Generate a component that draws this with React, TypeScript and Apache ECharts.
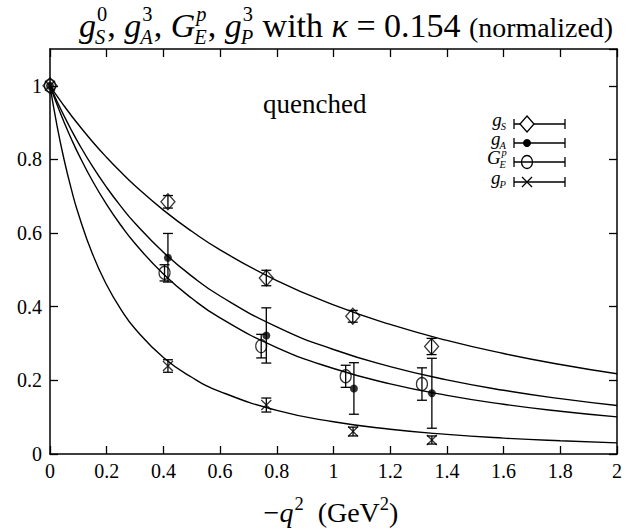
import React, { useEffect, useRef } from "react";
import * as echarts from "echarts";

const SERIF = "'Liberation Serif', 'DejaVu Serif', serif";

const curveX = [0, 0.025, 0.05, 0.075, 0.1, 0.15, 0.2, 0.25, 0.3, 0.4, 0.5, 0.6, 0.8, 1.0, 1.2, 1.4, 1.6, 1.8, 2.0];
const curveGS = [1, 0.972, 0.9452, 0.9195, 0.8948, 0.8483, 0.8054, 0.7656, 0.7287, 0.6625, 0.6049, 0.5545, 0.471, 0.405, 0.3519, 0.3086, 0.2729, 0.243, 0.2178];
const curveGA = [1, 0.9575, 0.9177, 0.8804, 0.8452, 0.781, 0.7238, 0.6726, 0.6267, 0.548, 0.4832, 0.4292, 0.3453, 0.2838, 0.2373, 0.2014, 0.1731, 0.1504, 0.1318];
const curveGE = [1, 0.9483, 0.9006, 0.8563, 0.8152, 0.7415, 0.6773, 0.6212, 0.5717, 0.4889, 0.423, 0.3695, 0.289, 0.2322, 0.1906, 0.1593, 0.1351, 0.116, 0.1007];
const curveGP = [1, 0.8908, 0.7985, 0.7199, 0.6524, 0.5429, 0.4589, 0.393, 0.3403, 0.2623, 0.2084, 0.1696, 0.1185, 0.0875, 0.0672, 0.0533, 0.0432, 0.0358, 0.0301];

// data points: [x, y, error]
const ptsGS = [[0, 1, 0], [0.416, 0.685, 0.017], [0.763, 0.478, 0.021], [1.068, 0.374, 0.016], [1.346, 0.292, 0.022]];
const ptsGA = [[0, 1, 0], [0.416, 0.533, 0.066], [0.763, 0.322, 0.075], [1.072, 0.178, 0.07], [1.347, 0.165, 0.095]];
const ptsGE = [[0, 1, 0], [0.404, 0.492, 0.022], [0.745, 0.293, 0.032], [1.043, 0.211, 0.03], [1.312, 0.19, 0.044]];
const ptsGP = [[0, 1, 0], [0.416, 0.239, 0.017], [0.763, 0.133, 0.019], [1.069, 0.061, 0.012], [1.347, 0.038, 0.011]];

type Tok = { t: string; it?: boolean; sup?: string; sub?: string; supIt?: boolean; subIt?: boolean; k?: number };

function buildMath(tokens: Tok[], base: number, anchorX: number, baseline: number, align: "center" | "right" | "left", scriptK = 0.66, supRaise = 0.42) {
  const ctx = document.createElement("canvas").getContext("2d") as CanvasRenderingContext2D;
  const fontStr = (size: number, it?: boolean) => `${it ? "italic " : ""}${size}px ${SERIF}`;
  const meas = (t: string, size: number, it?: boolean) => {
    ctx.font = fontStr(size, it);
    return ctx.measureText(t).width;
  };
  const els: any[] = [];
  const mk = (t: string, x: number, y: number, size: number, it?: boolean) => ({
    type: "text",
    x,
    y,
    silent: true,
    style: { text: t, font: fontStr(size, it), fill: "#000", textAlign: "left", textVerticalAlign: "middle" },
  });
  let x = 0;
  for (const tk of tokens) {
    const size = base * (tk.k ?? 1);
    if (tk.t) {
      els.push(mk(tk.t, x, baseline - 0.3 * size, size, tk.it));
      x += meas(tk.t, size, tk.it);
    }
    const ss = size * scriptK;
    let w = 0;
    if (tk.sup) {
      els.push(mk(tk.sup, x + (tk.it ? 1 : 0), baseline - supRaise * size - 0.3 * ss, ss, tk.supIt));
      w = Math.max(w, meas(tk.sup, ss, tk.supIt) + (tk.it ? 1 : 0));
    }
    if (tk.sub) {
      els.push(mk(tk.sub, x - (tk.it ? 1 : 0), baseline + 0.22 * size - 0.3 * ss, ss, tk.subIt));
      w = Math.max(w, meas(tk.sub, ss, tk.subIt));
    }
    x += w;
  }
  const off = align === "center" ? anchorX - x / 2 : align === "right" ? anchorX - x : anchorX;
  els.forEach((e) => (e.x += off));
  return els;
}

const errRender = (params: any, api: any) => {
  const x = api.value(0);
  const y = api.value(1);
  const e = api.value(2);
  if (!e) return { type: "group", children: [] };
  const top = api.coord([x, y + e]);
  const bot = api.coord([x, y - e]);
  const hw = 5;
  const st = { stroke: "#000", lineWidth: 1.3 };
  return {
    type: "group",
    children: [
      { type: "line", shape: { x1: top[0], y1: top[1], x2: bot[0], y2: bot[1] }, style: st },
      { type: "line", shape: { x1: top[0] - hw, y1: top[1], x2: top[0] + hw, y2: top[1] }, style: st },
      { type: "line", shape: { x1: bot[0] - hw, y1: bot[1], x2: bot[0] + hw, y2: bot[1] }, style: st },
    ],
  };
};

const DIAMOND = { symbol: "diamond", symbolSize: [14, 16], itemStyle: { color: "rgba(0,0,0,0)", borderColor: "#000", borderWidth: 1.3 } };
const FILLED = { symbol: "circle", symbolSize: 8, itemStyle: { color: "#000", borderColor: "#000", borderWidth: 0 } };
const OPEN = { symbol: "circle", symbolSize: [11, 13], itemStyle: { color: "rgba(0,0,0,0)", borderColor: "#000", borderWidth: 1.3 } };
const CROSS = { symbol: "path://M0,0L10,10M0,10L10,0", symbolSize: [10, 10], itemStyle: { color: "rgba(0,0,0,0)", borderColor: "#000", borderWidth: 1.3 } };

export default function App() {
  const ref = useRef<HTMLDivElement>(null);
  useEffect(() => {
    if (!ref.current) return;
    const chart = echarts.init(ref.current, undefined, { renderer: "svg" });

    const lineSeries = (d: number[]) => ({
      type: "line",
      data: curveX.map((x, i) => [x, d[i]]),
      showSymbol: false,
      smooth: 0.5,
      lineStyle: { color: "#000", width: 1.4 },
      silent: true,
      z: 2,
    });
    const errSeries = (p: number[][]) => ({
      type: "custom",
      renderItem: errRender,
      data: p,
      encode: { x: 0, y: 1 },
      silent: true,
      z: 3,
    });
    const scat = (p: number[][], sty: any) => ({
      type: "scatter",
      data: p.map((q) => [q[0], q[1]]),
      ...sty,
      silent: true,
      z: 4,
    });

    // legend graphic
    const rows = [
      { y: 124, tok: [{ t: "g", it: true, sub: "S", subIt: true }] as Tok[], sym: "diamond" },
      { y: 143, tok: [{ t: "g", it: true, sub: "A", subIt: true }] as Tok[], sym: "filled" },
      { y: 162, tok: [{ t: "G", it: true, sup: "p", supIt: true, sub: "E", subIt: true }] as Tok[], sym: "open" },
      { y: 182, tok: [{ t: "g", it: true, sub: "P", subIt: true }] as Tok[], sym: "cross" },
    ];
    const legendEls: any[] = [];
    const st = { stroke: "#000", lineWidth: 1.3 };
    rows.forEach((r) => {
      legendEls.push(...buildMath(r.tok, 19, 507, r.y + 1, "right", 0.55, 0.38));
      legendEls.push({ type: "line", shape: { x1: 514, y1: r.y, x2: 565, y2: r.y }, style: st, silent: true });
      legendEls.push({ type: "line", shape: { x1: 514, y1: r.y - 5, x2: 514, y2: r.y + 5 }, style: st, silent: true });
      legendEls.push({ type: "line", shape: { x1: 565, y1: r.y - 5, x2: 565, y2: r.y + 5 }, style: st, silent: true });
      const cx = 527;
      if (r.sym === "diamond") {
        legendEls.push({ type: "polygon", shape: { points: [[cx, r.y - 8], [cx + 7, r.y], [cx, r.y + 8], [cx - 7, r.y]] }, style: { fill: "#fff", stroke: "#000", lineWidth: 1.3 }, silent: true });
      } else if (r.sym === "filled") {
        legendEls.push({ type: "circle", shape: { cx, cy: r.y, r: 4 }, style: { fill: "#000" }, silent: true });
      } else if (r.sym === "open") {
        legendEls.push({ type: "ellipse", shape: { cx, cy: r.y, rx: 5.5, ry: 6.5 }, style: { fill: "rgba(0,0,0,0)", stroke: "#000", lineWidth: 1.3 }, silent: true });
      } else {
        legendEls.push({ type: "line", shape: { x1: cx - 5, y1: r.y - 5, x2: cx + 5, y2: r.y + 5 }, style: st, silent: true });
        legendEls.push({ type: "line", shape: { x1: cx - 5, y1: r.y + 5, x2: cx + 5, y2: r.y - 5 }, style: st, silent: true });
      }
    });

    const titleEls = buildMath(
      [
        { t: "g", it: true, sup: "0", sub: "S", subIt: true },
        { t: ", " },
        { t: "g", it: true, sup: "3", sub: "A", subIt: true },
        { t: ", " },
        { t: "G", it: true, sup: "p", supIt: true, sub: "E", subIt: true },
        { t: ", " },
        { t: "g", it: true, sup: "3", sub: "P", subIt: true },
        { t: " with " },
        { t: "κ", it: true },
        { t: " = 0.154 " },
        { t: "(normalized)", k: 0.82 },
      ],
      34,
      346,
      36,
      "center",
      0.6,
      0.46
    );
    const xTitleEls = buildMath(
      [{ t: "−" }, { t: "q", it: true, sup: "2" }, { t: "  (GeV", sup: "2" }, { t: ")" }],
      28,
      331,
      521,
      "center"
    );

    const axisLbl = { color: "#000", fontFamily: SERIF, fontSize: 20 };
    const fmt = (v: number) => String(Math.round(v * 10) / 10);
    const axLine = { show: true, onZero: false, lineStyle: { color: "#000", width: 1.5 } };
    const tick = { show: true, inside: true, length: 8, lineStyle: { color: "#000", width: 1.3 } };

    chart.setOption({
      animation: false,
      backgroundColor: "#fff",
      textStyle: { fontFamily: SERIF },
      grid: { left: 50, right: 24, top: 49, bottom: 77, containLabel: false },
      xAxis: [
        { type: "value", min: 0, max: 2, interval: 0.2, axisLine: axLine, axisTick: tick, splitLine: { show: false }, axisLabel: { ...axisLbl, margin: 7, formatter: fmt } },
        { type: "value", position: "top", min: 0, max: 2, interval: 0.2, axisLine: axLine, axisTick: tick, splitLine: { show: false }, axisLabel: { show: false } },
      ],
      yAxis: [
        { type: "value", min: 0, max: 1.1, interval: 0.2, axisLine: axLine, axisTick: tick, splitLine: { show: false }, axisLabel: { ...axisLbl, margin: 8, formatter: fmt, showMaxLabel: false } },
        { type: "value", position: "right", min: 0, max: 1.1, interval: 0.2, axisLine: axLine, axisTick: tick, splitLine: { show: false }, axisLabel: { show: false } },
      ],
      graphic: {
        elements: [
          ...titleEls,
          ...xTitleEls,
          { type: "text", x: 263, y: 104, silent: true, style: { text: "quenched", font: `27px ${SERIF}`, fill: "#000", textAlign: "left", textVerticalAlign: "middle" } },
          ...legendEls,
        ],
      },
      series: [
        lineSeries(curveGS),
        lineSeries(curveGA),
        lineSeries(curveGE),
        lineSeries(curveGP),
        errSeries(ptsGS),
        errSeries(ptsGA),
        errSeries(ptsGE),
        errSeries(ptsGP),
        scat(ptsGS, DIAMOND),
        scat(ptsGA, FILLED),
        scat(ptsGE, OPEN),
        scat(ptsGP, CROSS),
      ],
    });
    return () => chart.dispose();
  }, []);
  return <div ref={ref} style={{ position: "fixed", left: 0, top: 0, width: 641, height: 531 }} />;
}
